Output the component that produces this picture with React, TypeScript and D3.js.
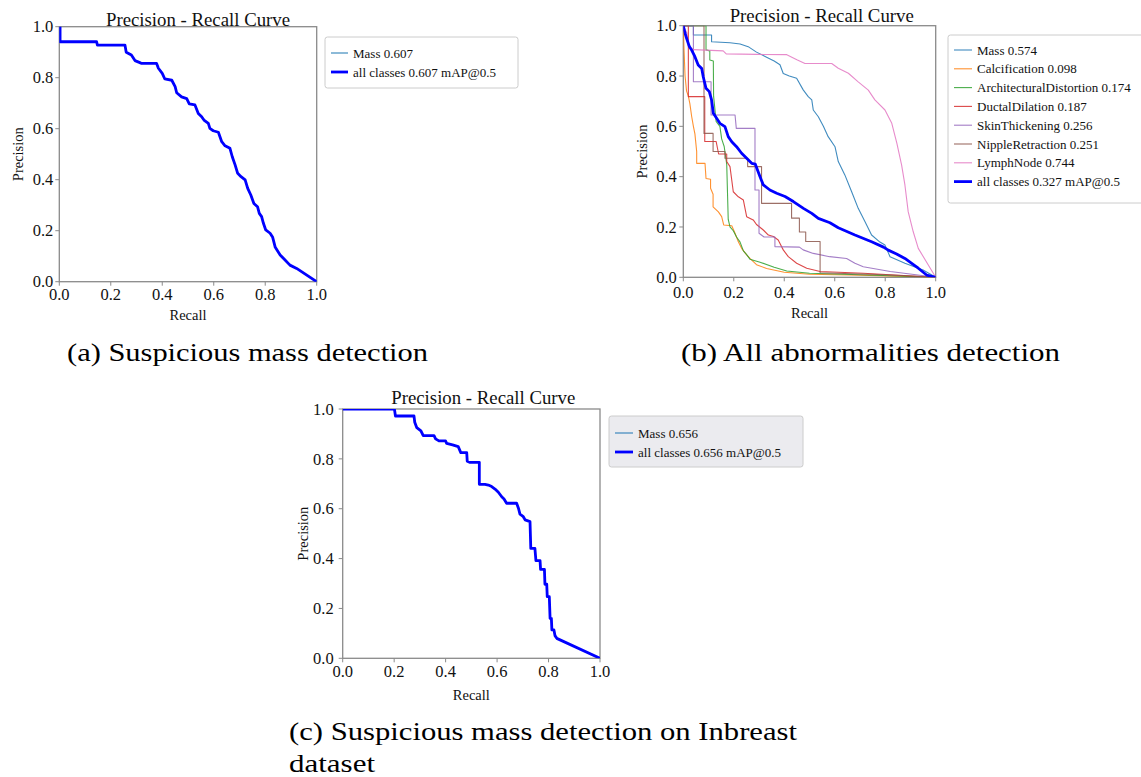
import React from 'react';
import * as d3 from 'd3';

type Pt = [number, number];

const TICKS = [0, 0.2, 0.4, 0.6, 0.8, 1.0];
const TITLE = 'Precision - Recall Curve';
const X_LABEL = 'Recall';
const Y_LABEL = 'Precision';

const CLASS_NAMES_B = ['Mass', 'Calcification', 'ArchitecturalDistortion', 'DuctalDilation', 'SkinThickening', 'NippleRetraction', 'LymphNode'];
const CLASS_AP_B = ['0.574', '0.098', '0.174', '0.187', '0.256', '0.251', '0.744'];
const CLASS_COLORS = ['#1f77b4', '#ff7f0e', '#2ca02c', '#d62728', '#9467bd', '#8c564b', '#e377c2'];
const ALL_COLOR = '#0000ff';

const MAP_A = '0.607';
const MAP_B = '0.327';
const MAP_C = '0.656';

const CAPTION_A = '(a) Suspicious mass detection';
const CAPTION_B = '(b) All abnormalities detection';
const CAPTION_C1 = '(c) Suspicious mass detection on Inbreast';
const CAPTION_C2 = 'dataset';

// Panel (a): Mass (single class, same as all classes)
const massA: Pt[] = [[0, 1], [0.003, 1], [0.003, 0.941], [0.145, 0.941], [0.148, 0.928], [0.255, 0.928], [0.26, 0.9], [0.28, 0.889], [0.294, 0.867], [0.313, 0.859], [0.32, 0.856], [0.378, 0.856], [0.385, 0.837], [0.4, 0.817], [0.41, 0.795], [0.437, 0.79], [0.45, 0.765], [0.456, 0.741], [0.475, 0.725], [0.495, 0.718], [0.505, 0.697], [0.527, 0.693], [0.54, 0.66], [0.553, 0.647], [0.562, 0.634], [0.579, 0.621], [0.585, 0.601], [0.598, 0.592], [0.618, 0.586], [0.631, 0.549], [0.644, 0.533], [0.663, 0.523], [0.672, 0.49], [0.683, 0.458], [0.693, 0.425], [0.706, 0.412], [0.722, 0.399], [0.732, 0.366], [0.744, 0.34], [0.756, 0.307], [0.77, 0.294], [0.777, 0.268], [0.786, 0.255], [0.793, 0.229], [0.802, 0.203], [0.819, 0.19], [0.829, 0.174], [0.839, 0.135], [0.858, 0.105], [0.877, 0.085], [0.896, 0.065], [0.922, 0.052], [1, 0]];

// Panel (c): Mass on Inbreast
const massC: Pt[] = [[0, 1], [0.201, 1], [0.205, 0.972], [0.277, 0.972], [0.28, 0.947], [0.288, 0.925], [0.304, 0.912], [0.313, 0.893], [0.355, 0.893], [0.361, 0.88], [0.374, 0.872], [0.4, 0.872], [0.404, 0.862], [0.427, 0.856], [0.449, 0.849], [0.459, 0.825], [0.482, 0.825], [0.484, 0.791], [0.495, 0.786], [0.531, 0.786], [0.531, 0.698], [0.553, 0.698], [0.566, 0.695], [0.579, 0.689], [0.592, 0.679], [0.605, 0.666], [0.618, 0.648], [0.627, 0.639], [0.637, 0.622], [0.676, 0.622], [0.683, 0.602], [0.689, 0.578], [0.702, 0.568], [0.709, 0.555], [0.728, 0.548], [0.731, 0.441], [0.747, 0.441], [0.751, 0.392], [0.767, 0.392], [0.769, 0.357], [0.784, 0.357], [0.786, 0.297], [0.793, 0.297], [0.795, 0.247], [0.803, 0.247], [0.806, 0.16], [0.811, 0.16], [0.813, 0.114], [0.821, 0.114], [0.825, 0.091], [0.832, 0.08], [1, 0]];

// Panel (b): all abnormalities
const massB: Pt[] = [[0, 1], [0.04, 1], [0.04, 0.963], [0.112, 0.963], [0.112, 0.936], [0.185, 0.932], [0.225, 0.927], [0.26, 0.915], [0.29, 0.895], [0.33, 0.875], [0.36, 0.86], [0.383, 0.845], [0.396, 0.81], [0.42, 0.8], [0.449, 0.791], [0.475, 0.745], [0.495, 0.718], [0.509, 0.705], [0.515, 0.665], [0.535, 0.638], [0.555, 0.6], [0.574, 0.559], [0.601, 0.519], [0.614, 0.46], [0.64, 0.407], [0.667, 0.34], [0.693, 0.274], [0.72, 0.221], [0.746, 0.168], [0.779, 0.14], [0.799, 0.128], [0.819, 0.082], [0.878, 0.056], [0.95, 0.029], [1, 0]];
const calcB: Pt[] = [[0, 1], [0.003, 0.9], [0.007, 0.8], [0.013, 0.74], [0.02, 0.72], [0.026, 0.69], [0.033, 0.64], [0.04, 0.6], [0.046, 0.57], [0.053, 0.5], [0.053, 0.453], [0.086, 0.453], [0.09, 0.393], [0.108, 0.39], [0.108, 0.354], [0.118, 0.33], [0.118, 0.28], [0.139, 0.26], [0.152, 0.241], [0.16, 0.208], [0.192, 0.205], [0.205, 0.175], [0.218, 0.141], [0.231, 0.115], [0.251, 0.089], [0.264, 0.075], [0.29, 0.05], [0.33, 0.035], [0.4, 0.02], [0.5, 0.012], [0.7, 0.008], [1, 0]];
const archB: Pt[] = [[0, 1], [0.09, 1], [0.09, 0.904], [0.105, 0.9], [0.105, 0.864], [0.119, 0.86], [0.12, 0.72], [0.13, 0.62], [0.145, 0.6], [0.152, 0.55], [0.162, 0.52], [0.172, 0.45], [0.178, 0.23], [0.185, 0.2], [0.198, 0.185], [0.211, 0.16], [0.225, 0.14], [0.238, 0.105], [0.251, 0.09], [0.264, 0.072], [0.304, 0.06], [0.36, 0.04], [0.41, 0.025], [0.5, 0.016], [0.7, 0.01], [1, 0]];
const ductB: Pt[] = [[0, 1], [0.02, 1], [0.02, 0.718], [0.085, 0.718], [0.085, 0.54], [0.13, 0.54], [0.14, 0.49], [0.172, 0.49], [0.172, 0.46], [0.185, 0.44], [0.198, 0.34], [0.218, 0.32], [0.238, 0.307], [0.251, 0.241], [0.277, 0.228], [0.29, 0.21], [0.317, 0.188], [0.337, 0.168], [0.357, 0.162], [0.376, 0.148], [0.396, 0.109], [0.416, 0.082], [0.449, 0.056], [0.489, 0.036], [0.542, 0.023], [0.713, 0.016], [1, 0]];
const skinB: Pt[] = [[0, 1], [0.04, 1], [0.04, 0.777], [0.11, 0.777], [0.11, 0.645], [0.205, 0.645], [0.21, 0.592], [0.284, 0.592], [0.284, 0.347], [0.3, 0.347], [0.3, 0.175], [0.32, 0.16], [0.363, 0.16], [0.363, 0.122], [0.46, 0.12], [0.475, 0.109], [0.515, 0.095], [0.58, 0.082], [0.647, 0.075], [0.68, 0.056], [0.713, 0.042], [0.82, 0.023], [1, 0]];
const nippleB: Pt[] = [[0, 1], [0.082, 1], [0.082, 0.572], [0.118, 0.572], [0.118, 0.5], [0.165, 0.5], [0.165, 0.473], [0.255, 0.473], [0.255, 0.44], [0.31, 0.44], [0.31, 0.294], [0.429, 0.294], [0.429, 0.235], [0.46, 0.235], [0.46, 0.18], [0.485, 0.18], [0.485, 0.142], [0.542, 0.142], [0.542, 0.018], [0.8, 0.01], [1, 0]];
const lymphB: Pt[] = [[0, 1], [0.015, 0.97], [0.02, 0.92], [0.04, 0.905], [0.158, 0.9], [0.17, 0.888], [0.29, 0.886], [0.41, 0.885], [0.45, 0.865], [0.482, 0.85], [0.588, 0.85], [0.614, 0.831], [0.654, 0.811], [0.693, 0.777], [0.733, 0.744], [0.759, 0.705], [0.799, 0.665], [0.826, 0.612], [0.846, 0.533], [0.865, 0.446], [0.878, 0.367], [0.891, 0.261], [0.911, 0.181], [0.931, 0.115], [1, 0]];
const allB: Pt[] = [[0, 1], [0.007, 0.97], [0.013, 0.95], [0.024, 0.917], [0.033, 0.903], [0.046, 0.877], [0.059, 0.844], [0.073, 0.83], [0.079, 0.797], [0.09, 0.751], [0.103, 0.738], [0.112, 0.705], [0.119, 0.652], [0.132, 0.632], [0.145, 0.612], [0.165, 0.599], [0.178, 0.559], [0.192, 0.539], [0.211, 0.519], [0.231, 0.493], [0.251, 0.473], [0.271, 0.453], [0.285, 0.45], [0.304, 0.4], [0.317, 0.367], [0.343, 0.347], [0.37, 0.334], [0.403, 0.321], [0.436, 0.301], [0.476, 0.274], [0.509, 0.254], [0.535, 0.234], [0.581, 0.217], [0.614, 0.197], [0.68, 0.168], [0.746, 0.141], [0.793, 0.12], [0.812, 0.108], [0.845, 0.093], [0.878, 0.075], [0.905, 0.055], [0.931, 0.036], [0.964, 0.009], [1, 0]];

const CLASS_SERIES_B = [massB, calcB, archB, ductB, skinB, nippleB, lymphB];

const FONT = '"Liberation Serif", "Times New Roman", serif';

type Series = { data: Pt[]; color: string; width: number; label: string };

type PanelProps = {
  id: string;
  left: number; right: number; top: number; bottom: number;
  titleX: number; titleY: number;
  yLabX: number; xLabY: number;
  xTickDy: number; yTickGap: number;
  series: Series[];
  legend: { x: number; y: number; w: number; h: number; fill: string; rowY0: number; rowDy: number; lineX0: number; lineX1: number; textX: number };
};

function Panel(p: PanelProps) {
  const x = d3.scaleLinear().domain([0, 1]).range([p.left, p.right]);
  const y = d3.scaleLinear().domain([0, 1]).range([p.bottom, p.top]);
  const line = d3.line<Pt>().x(d => x(d[0])).y(d => y(d[1]));
  const fmt = d3.format('.1f');
  const cx = (p.left + p.right) / 2;
  const cy = (p.top + p.bottom) / 2;
  const L = p.legend;
  return (
    <g fontFamily={FONT}>
      <defs>
        <clipPath id={`clip-${p.id}`}>
          <rect x={p.left} y={p.top} width={p.right - p.left} height={p.bottom - p.top} />
        </clipPath>
      </defs>
      <rect x={p.left} y={p.top} width={p.right - p.left} height={p.bottom - p.top} fill="#fff" stroke="#8a8a8a" strokeWidth={1.3} />
      {TICKS.map(t => (
        <g key={`x${t}`}>
          <line x1={x(t)} x2={x(t)} y1={p.bottom} y2={p.bottom + 4} stroke="#8a8a8a" strokeWidth={1} />
          <text x={x(t)} y={p.bottom + p.xTickDy} textAnchor="middle" fontSize={16.5} fill="#111">{fmt(t)}</text>
        </g>
      ))}
      {TICKS.map(t => (
        <g key={`y${t}`}>
          <line x1={p.left - 4} x2={p.left} y1={y(t)} y2={y(t)} stroke="#8a8a8a" strokeWidth={1} />
          <text x={p.left - p.yTickGap} y={y(t)} dy="0.35em" textAnchor="end" fontSize={16.5} fill="#111">{fmt(t)}</text>
        </g>
      ))}
      <g clipPath={`url(#clip-${p.id})`}>
        {p.series.map((s, i) => (
          <path key={i} d={line(s.data) || ''} fill="none" stroke={s.color} strokeWidth={s.width} strokeLinejoin="round" opacity={s.width < 2 ? 0.85 : 1} />
        ))}
      </g>
      <text x={p.titleX} y={p.titleY} textAnchor="middle" fontSize={18.8} fill="#111">{TITLE}</text>
      <text x={cx} y={p.xLabY} textAnchor="middle" fontSize={14.5} fill="#111">{X_LABEL}</text>
      <text transform={`translate(${p.yLabX},${cy}) rotate(-90)`} textAnchor="middle" dy="0.35em" fontSize={14.5} fill="#111">{Y_LABEL}</text>
      <rect x={L.x} y={L.y} width={L.w} height={L.h} rx={2.5} fill={L.fill} stroke="#cccccc" strokeWidth={1} />
      {p.series.map((s, i) => {
        const ry = L.rowY0 + i * L.rowDy;
        return (
          <g key={`l${i}`}>
            <line x1={L.lineX0} x2={L.lineX1} y1={ry} y2={ry} stroke={s.color} strokeWidth={s.width} opacity={s.width < 2 ? 0.85 : 1} />
            <text x={L.textX} y={ry} dy="0.35em" fontSize={13} fill="#111">{s.label}</text>
          </g>
        );
      })}
    </g>
  );
}

export default function App() {
  const seriesA: Series[] = [
    { data: massA, color: CLASS_COLORS[0], width: 1.2, label: `Mass ${MAP_A}` },
    { data: massA, color: ALL_COLOR, width: 2.8, label: `all classes ${MAP_A} mAP@0.5` },
  ];
  const seriesC: Series[] = [
    { data: massC, color: CLASS_COLORS[0], width: 1.2, label: `Mass ${MAP_C}` },
    { data: massC, color: ALL_COLOR, width: 2.8, label: `all classes ${MAP_C} mAP@0.5` },
  ];
  const seriesB: Series[] = [
    ...CLASS_SERIES_B.map((d, i) => ({ data: d, color: CLASS_COLORS[i], width: 1.1, label: `${CLASS_NAMES_B[i]} ${CLASS_AP_B[i]}` })),
    { data: allB, color: ALL_COLOR, width: 2.8, label: `all classes ${MAP_B} mAP@0.5` },
  ];

  return (
    <svg width={1141} height={777} style={{ position: 'absolute', left: 0, top: 0, background: '#fff' }}>
      <rect x={0} y={0} width={1141} height={777} fill="#fff" />
      <Panel id="a" left={59.3} right={316.7} top={26.7} bottom={281.7}
        titleX={198} titleY={25.5} yLabX={18.3} xLabY={320} xTickDy={18.5} yTickGap={6}
        series={seriesA}
        legend={{ x: 325, y: 37, w: 193, h: 51, fill: '#ffffff', rowY0: 53, rowDy: 19, lineX0: 331, lineX1: 348, textX: 353 }} />
      <Panel id="b" left={683.3} right={935.7} top={25.7} bottom={277.3}
        titleX={821.7} titleY={22} yLabX={641.7} xLabY={318} xTickDy={20.5} yTickGap={6.5}
        series={seriesB}
        legend={{ x: 948, y: 35, w: 200, h: 168, fill: '#ffffff', rowY0: 50, rowDy: 18.8, lineX0: 954, lineX1: 972, textX: 977 }} />
      <Panel id="c" left={342.7} right={600} top={409} bottom={658.3}
        titleX={483.3} titleY={404.3} yLabX={302.7} xLabY={700} xTickDy={18.5} yTickGap={9}
        series={seriesC}
        legend={{ x: 609, y: 416, w: 194, h: 51, fill: '#ebebef', rowY0: 433, rowDy: 19, lineX0: 615, lineX1: 633, textX: 638 }} />
      <g fontFamily={FONT} fontSize={25} fill="#000">
        <text x={67} y={361} textLength={361} lengthAdjust="spacingAndGlyphs">{CAPTION_A}</text>
        <text x={681} y={361} textLength={379} lengthAdjust="spacingAndGlyphs">{CAPTION_B}</text>
        <text x={289} y={740} textLength={508} lengthAdjust="spacingAndGlyphs">{CAPTION_C1}</text>
        <text x={289} y={772} textLength={86} lengthAdjust="spacingAndGlyphs">{CAPTION_C2}</text>
      </g>
    </svg>
  );
}
